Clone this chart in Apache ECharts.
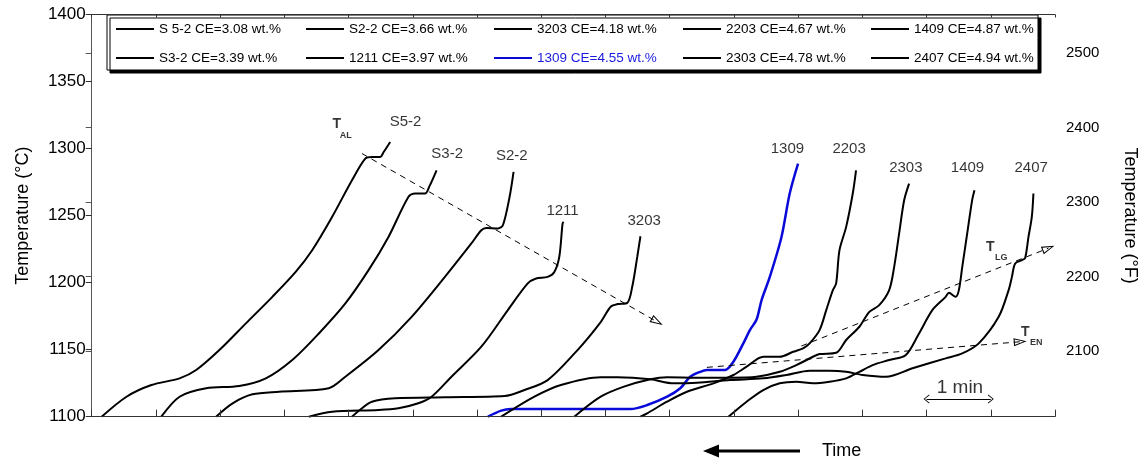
<!DOCTYPE html>
<html><head><meta charset="utf-8">
<script src="https://cdn.jsdelivr.net/npm/echarts@6/dist/echarts.min.js"></script>
<style>html,body{margin:0;padding:0;background:#fff}#c{width:1147px;height:464px}</style>
</head><body><div id="c"></div>
<script>
// ---- data: x = time (min), y = temperature (°C) ----
const S52 = [[0.155,1100],[0.542,1114.9],[0.93,1123.6],[1.368,1128.6],[1.627,1134.8],[1.988,1149.7],[2.401,1169.6],[2.813,1189.4],[3.176,1208.0],[3.433,1224.2],[3.743,1249.0],[4.053,1276.4],[4.26,1292.5],[4.363,1293.7],[4.493,1293.7],[4.544,1297.2],[4.648,1304.9]];
const S32 = [[1.084,1100],[1.368,1114.9],[1.782,1121.2],[2.297,1122.9],[2.711,1128.6],[3.123,1142.3],[3.537,1162.1],[3.95,1184.5],[4.311,1209.3],[4.621,1234.1],[4.931,1263.9],[5.035,1266.5],[5.19,1266.5],[5.26,1272],[5.37,1283.8]];
const S22 = [[1.937,1100],[2.194,1110],[2.503,1116.7],[2.917,1118.6],[3.692,1121.2],[3.95,1129.8],[4.466,1149.7],[4.982,1174.5],[5.5,1204.3],[5.912,1229.2],[6.067,1239.1],[6.144,1240.8],[6.325,1240.4],[6.403,1242.8],[6.507,1263.9],[6.569,1282.6]];
const S1211 = [[3.382,1100],[3.743,1103.7],[4.466,1105],[4.776,1106.3],[5.086,1110],[5.292,1114.9],[5.602,1129.8],[6.067,1152.2],[6.48,1179.5],[6.79,1199.4],[6.919,1203.1],[7.1,1204.3],[7.204,1208],[7.281,1219.2],[7.332,1244.1],[7.348,1245.3]];
const S3203 = [[4.053,1100],[4.208,1106.3],[4.363,1111.2],[4.725,1113.7],[5.5,1114.5],[6.429,1115.4],[6.739,1119.9],[7.1,1127.3],[7.565,1149.7],[7.926,1170.6],[8.081,1182],[8.185,1184],[8.34,1184.9],[8.417,1196.9],[8.495,1219.2],[8.545,1234.6]];
const S1309 = [[6.17,1100],[6.377,1104.5],[6.531,1105.7],[8.39,1105.7],[8.651,1108.7],[8.961,1114.9],[9.165,1121.2],[9.32,1129.8],[9.476,1133.5],[9.579,1134.8],[9.862,1134.8],[9.992,1141],[10.147,1154.7],[10.249,1164.6],[10.353,1172.5],[10.431,1187],[10.559,1204.3],[10.741,1234.1],[10.869,1266.5],[10.999,1288.8]];
const S2203 = [[8.545,1100],[8.649,1102.5],[8.959,1111.2],[9.269,1118.6],[9.682,1124.9],[9.992,1131.1],[10.198,1137.3],[10.457,1144.7],[10.714,1144.7],[10.922,1148.4],[11.077,1151],[11.179,1154.7],[11.334,1164.6],[11.438,1179.5],[11.541,1194.4],[11.592,1199.4],[11.644,1224.2],[11.748,1241.6],[11.851,1266.5],[11.902,1283.8]];
const S2303 = [[7.514,1100],[7.926,1114.9],[8.288,1122.4],[8.7,1127.9],[8.961,1129.4],[9.426,1129.1],[9.94,1129.1],[10.353,1129.8],[10.714,1133.5],[10.973,1138.5],[11.231,1144.7],[11.334,1146.7],[11.592,1147.7],[11.748,1157.2],[11.954,1167.1],[12.109,1178.2],[12.263,1183.2],[12.418,1194.4],[12.496,1211.8],[12.573,1236.7],[12.651,1261.5],[12.728,1273.9]];
const S1409 = [[9.915,1100],[10.198,1111.2],[10.457,1119.9],[10.714,1124.9],[10.973,1126.1],[11.231,1124.9],[11.489,1126.1],[11.748,1128.6],[11.954,1133.5],[12.161,1138.5],[12.418,1142.3],[12.677,1146],[12.883,1162.1],[13.09,1179.5],[13.297,1189.4],[13.348,1192.4],[13.452,1189.4],[13.503,1194.4],[13.556,1211.8],[13.633,1236.7],[13.71,1261.5],[13.746,1268.9]];
const S2407 = [[6.377,1100],[6.894,1114.9],[7.306,1123.6],[7.926,1129.4],[8.184,1129.4],[8.7,1127.9],[9.063,1124.9],[9.426,1125.3],[9.94,1127.3],[10.457,1128.6],[10.818,1131.1],[11.179,1134.3],[11.489,1134.3],[11.748,1133.5],[12.006,1131.1],[12.367,1129.8],[12.781,1136.1],[13.297,1143.5],[13.556,1147.2],[13.813,1154.7],[14.123,1174.5],[14.278,1194.4],[14.329,1204.3],[14.38,1214.3],[14.485,1216.8],[14.535,1218.3],[14.587,1234.1],[14.639,1249],[14.664,1266.5]];

const NAMES = ['S 5-2 CE=3.08 wt.%','S3-2 CE=3.39 wt.%','S2-2 CE=3.66 wt.%','1211 CE=3.97 wt.%','3203 CE=4.18 wt.%','1309 CE=4.55 wt.%','2203 CE=4.67 wt.%','2303 CE=4.78 wt.%','1409 CE=4.87 wt.%','2407 CE=4.94 wt.%'];
const DATA = [S52,S32,S22,S1211,S3203,S1309,S2203,S2303,S1409,S2407];
const COLORS = ['#000','#000','#000','#000','#000','#0a0ad8','#000','#000','#000','#000'];

// curve name labels [text, x, T]
const CURVE_LABELS = [['S5-2',4.887,1319.6],['S3-2',5.535,1295.8],['S2-2',6.542,1294.3],['1211',7.332,1253.3],['3203',8.603,1245.8],['1309',10.834,1299.5],['2203',11.794,1299.5],['2303',12.677,1285.3],['1409',13.637,1285.3],['2407',14.629,1285.3]];
// T annotations [main, sub, x, T, xs, Ts]
const T_LABELS = [['T','AL',3.815,1318.1,3.955,1309.5],['T','LG',13.994,1226.7,14.164,1218.6],['T','EN',14.536,1163.3,14.707,1155.3]];
// dashed guide arrows
const TAL = [[4.208,1296.3],[8.804,1170.8]];
const TLG = [[11.05,1152.7],[14.897,1225.7]];
const TEN = [[9.579,1136.8],[14.459,1155.9]];
const ONE_MIN = [[13,1113.2],[14,1113.2]];
const ONE_MIN_LABEL = ['1 min',13.52,1121.4];

const Y_TICKS_F = [2100,2200,2300,2400,2500];

const FONT = '"Liberation Sans", Arial, sans-serif';
const F2C = f => (f - 32) * 5 / 9;
const FT_C = Y_TICKS_F.map(F2C);

const OPEN_TRI = 'path://M10,0 L20,30 L0,30 Z M10,7 L3.5,27.5 L16.5,27.5 Z';
const CHEV = 'path://M10,0 L20,14 L18.5,15.2 L10,3.2 L1.5,15.2 L0,14 Z';

const chart = echarts.init(document.getElementById('c'), null, {renderer:'canvas'});

const series = DATA.map((d,i)=>({
  name: NAMES[i], type:'line', data:d, symbol:'none', showSymbol:false,
  smooth:0.3,
  lineStyle:{color:COLORS[i], width: i===5 ? 2.5 : 2},
  itemStyle:{color:COLORS[i]}, z:2, silent:true
}));

series.push({
  type:'scatter', name:'curveLabels', silent:true, symbolSize:1,
  itemStyle:{color:'rgba(0,0,0,0)'},
  label:{show:true, position:'inside', fontFamily:FONT, fontSize:15, color:'#000'},
  data: CURVE_LABELS.map(c=>({value:[c[1],c[2]], label:{formatter:c[0]}})), z:4
});
const tData = [];
T_LABELS.forEach(t=>{
  tData.push({value:[t[2],t[3]], label:{formatter:t[0], fontSize:14, fontWeight:'bold'}});
  tData.push({value:[t[4],t[5]], label:{formatter:t[1], fontSize:9, fontWeight:'bold'}});
});
tData.push({value:[ONE_MIN_LABEL[1],ONE_MIN_LABEL[2]], label:{formatter:ONE_MIN_LABEL[0], fontSize:19}});
series.push({
  type:'scatter', name:'tLabels', silent:true, symbolSize:1,
  itemStyle:{color:'rgba(0,0,0,0)'},
  label:{show:true, position:'inside', fontFamily:FONT, color:'#000'},
  data:tData, z:4
});
series.push({
  type:'line', name:'guides', data:[], silent:true,
  markLine:{silent:true, animation:false, symbol:['none',OPEN_TRI], symbolSize:[8,13],
    label:{show:false}, lineStyle:{type:[6,5], color:'#000', width:1},
    emphasis:{disabled:true},
    data:[[{coord:TAL[0]},{coord:TAL[1]}],[{coord:TLG[0]},{coord:TLG[1]}],[{coord:TEN[0]},{coord:TEN[1]}]]}
});
series.push({
  type:'line', name:'oneMin', data:[], silent:true,
  markLine:{silent:true, animation:false, symbol:[CHEV,CHEV], symbolSize:[9,6],
    label:{show:false}, lineStyle:{type:'solid', color:'#000', width:1},
    emphasis:{disabled:true},
    data:[[{coord:ONE_MIN[0]},{coord:ONE_MIN[1]}]]}
});

const COLS = [[0,1],[2,3],[4,5],[6,7],[8,9]];
const LEG_LEFT = [115,305,493,682,870];
const legends = COLS.map((c,i)=>({
  orient:'vertical', left:LEG_LEFT[i], top:22, itemWidth:38, itemHeight:14, itemGap:15, padding:0,
  selectedMode:false, z:5,
  itemStyle:{opacity:0, borderWidth:0},
  textStyle:{fontFamily:FONT, fontSize:13.5, color:'#000'},
  data:c.map(k=> k===5 ? {name:NAMES[k], textStyle:{color:'#1a1ae0'}} : {name:NAMES[k]})
}));

const AX = '#333';
chart.setOption({
  animation:false,
  backgroundColor:'#fff',
  textStyle:{fontFamily:FONT},
  grid:{left:91.7, right:87, top:14.5, bottom:47.3, containLabel:false},
  legend:legends,
  xAxis:[
    {type:'value', min:0, max:15, interval:1, position:'bottom', z:3,
     axisLine:{show:true, lineStyle:{color:AX}}, axisTick:{show:true, inside:true, length:7, lineStyle:{color:AX}},
     axisLabel:{show:false}, splitLine:{show:false}},
    {type:'value', min:0, max:15, interval:1, position:'top', z:3,
     axisLine:{show:true, lineStyle:{color:AX}}, axisTick:{show:true, inside:true, length:3, lineStyle:{color:AX}},
     axisLabel:{show:false}, splitLine:{show:false}}
  ],
  yAxis:[
    {type:'value', min:1100, max:1400, interval:50, position:'left', z:3,
     axisLine:{show:true, lineStyle:{color:AX}}, axisTick:{show:true, inside:false, length:6, lineStyle:{color:AX}},
     axisLabel:{fontSize:17, color:'#000', margin:6, fontFamily:FONT, formatter:v=>String(v)},
     splitLine:{show:false},
     name:'Temperature (°C)', nameLocation:'middle', nameRotate:90, nameGap:60,
     nameTextStyle:{fontSize:18, color:'#000', fontFamily:FONT}},
    {type:'value', min:1100, max:1400, position:'right', z:3,
     axisLine:{show:true, lineStyle:{color:'#555'}},
     axisTick:{show:true, inside:true, length:6, lineStyle:{color:'#555'}, customValues:FT_C},
     axisLabel:{fontSize:15, color:'#000', margin:11, fontFamily:FONT, customValues:FT_C,
       formatter:v=>String(Math.round(v*9/5+32))},
     splitLine:{show:false},
     name:'Temperature (°F)', nameLocation:'middle', nameRotate:-90, nameGap:66,
     nameTextStyle:{fontSize:18, color:'#000', fontFamily:FONT}}
  ],
  graphic:[
    {type:'rect', z:1, silent:true, shape:{x:107, y:15, width:931, height:55},
     style:{fill:'#fff', stroke:'#000', lineWidth:1, shadowColor:'#000', shadowOffsetX:3, shadowOffsetY:3, shadowBlur:0}},
    {type:'line', silent:true, shape:{x1:714, y1:451, x2:800, y2:451}, style:{stroke:'#000', lineWidth:3}},
    {type:'polygon', silent:true, shape:{points:[[703,451],[719,444.5],[719,457.5]]}, style:{fill:'#000'}},
    {type:'text', silent:true, style:{text:'Time', x:822, y:451, font:'18px "Liberation Sans", Arial, sans-serif', verticalAlign:'middle', align:'left', fill:'#000'}}
  ],
  series:series
});
</script></body></html>
